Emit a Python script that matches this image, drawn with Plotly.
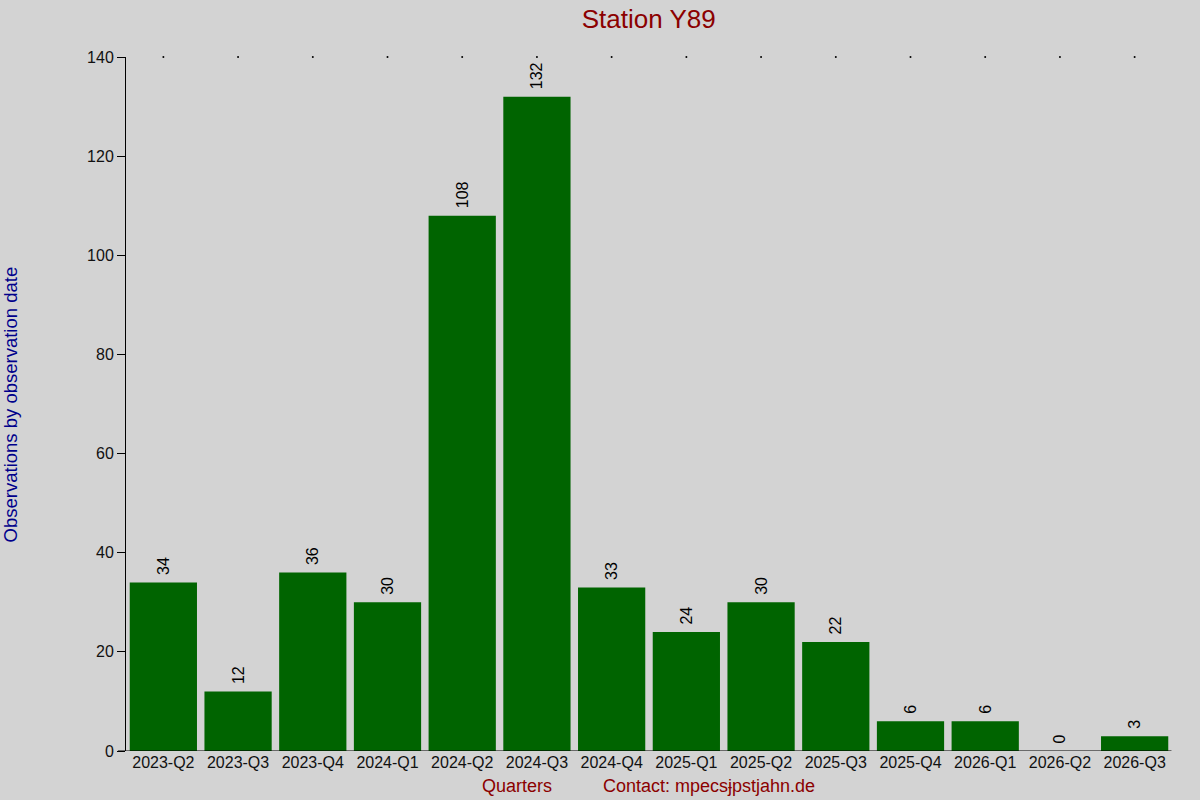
import plotly.graph_objects as go

# quarterly observation counts
quarters = ['2023-Q2', '2023-Q3', '2023-Q4', '2024-Q1', '2024-Q2', '2024-Q3', '2024-Q4',
            '2025-Q1', '2025-Q2', '2025-Q3', '2025-Q4', '2026-Q1', '2026-Q2', '2026-Q3']
counts = [34, 12, 36, 30, 108, 132, 33, 24, 30, 22, 6, 6, 0, 3]
y_ticks = [0, 20, 40, 60, 80, 100, 120, 140]

FONT = 'Liberation Sans, Arial, sans-serif'

bars = go.Bar(
    x=quarters,
    y=counts,
    marker=dict(color='#006400', line=dict(width=0)),
    # leading nbsp gives a little gap between bar top and rotated label
    text=['\u00a0' + str(c) for c in counts],
    textposition='outside',
    textangle=-90,
    cliponaxis=False,
    textfont=dict(family=FONT, size=16, color='black'),
    width=0.9,
    hoverinfo='x+y',
    showlegend=False,
)

# small dots along the top edge at each category
top_dots = go.Scatter(
    x=quarters,
    y=[y_ticks[-1]] * len(quarters),
    mode='markers',
    marker=dict(color='black', size=2),
    cliponaxis=False,
    hoverinfo='skip',
    showlegend=False,
)

fig = go.Figure(data=[bars, top_dots])

fig.update_layout(
    width=1200,
    height=800,
    paper_bgcolor='#d3d3d3',
    plot_bgcolor='#d3d3d3',
    margin=dict(l=126, r=28, t=57, b=49),
    font=dict(family=FONT, size=16, color='black'),
    title=dict(text='Station Y89', x=0.5406, xanchor='center', y=0.977, yanchor='middle',
               font=dict(size=26, color='#8b0000')),
    xaxis=dict(
        showgrid=False, zeroline=False,
        showline=False,
        ticks='', tickfont=dict(size=16, color='#111'),
        range=[-0.5, 13.5],
    ),
    yaxis=dict(
        range=[0, 140], tickvals=y_ticks,
        showgrid=False, zeroline=False,
        showline=True, linecolor='black', linewidth=1,
        ticks='outside', ticklen=8, tickcolor='black',
        tickfont=dict(size=16, color='#111'),
    ),
    bargap=0.1,
)

# x axis baseline extending under the y tick
fig.add_shape(type='line', xref='paper', yref='y', x0=-0.0077, x1=0.9995, y0=0, y1=0,
              line=dict(color='black', width=1))

fig.add_annotation(text='Observations by observation date', xref='paper', yref='paper',
                   x=-0.1105, y=0.5, xanchor='center', yanchor='middle', textangle=-90,
                   showarrow=False, font=dict(size=18.5, color='#00008b'))
fig.add_annotation(text='Quarters', xref='paper', yref='paper', x=0.374, y=-0.0504,
                   xanchor='center', yanchor='middle', showarrow=False,
                   font=dict(size=18, color='#8b0000'))
fig.add_annotation(text='Contact: mpecsɉpstjahn.de', xref='paper', yref='paper', x=0.454, y=-0.0504,
                   xanchor='left', yanchor='middle', showarrow=False,
                   font=dict(size=18, color='#8b0000'))

# drop the default page margin so the 1200x800 figure fills the window
fig.write_html('out.html', config={'displayModeBar': False},
               post_script="document.body.style.margin='0';"
                           "document.body.style.overflow='hidden';")
